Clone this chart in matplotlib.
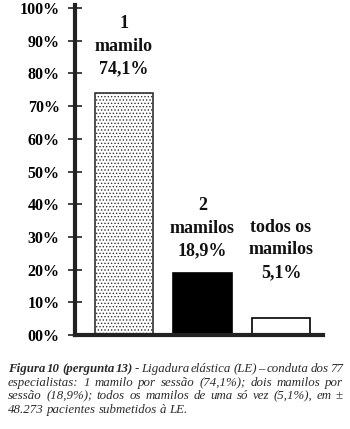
import matplotlib
matplotlib.use('Agg')
import matplotlib.pyplot as plt

# bar data
categories = ['1\nmamilo', '2\nmamilos', 'todos os\nmamilos']
values = [74.1, 18.9, 5.1]
value_labels = ['74,1%', '18,9%', '5,1%']
yticks = list(range(0, 101, 10))
ytick_labels = ['00%'] + ['%d%%' % t for t in yticks[1:]]

# caption, one list per printed line; True marks bold words
caption_lines = [
    [('Figura', True), ('10', True), ('(pergunta', True), ('13)', True), ('-', False),
     ('Ligadura', False), ('elástica', False), ('(LE)', False), ('–', False),
     ('conduta', False), ('dos', False), ('77', False)],
    [(w, False) for w in 'especialistas: 1 mamilo por sessão (74,1%); dois mamilos por'.split()],
    [(w, False) for w in 'sessão (18,9%); todos os mamilos de uma só vez (5,1%), em ±'.split()],
    [(w, False) for w in '48.273 pacientes submetidos à LE.'.split()],
]

serif = ['Liberation Serif', 'DejaVu Serif']
plt.rcParams['hatch.linewidth'] = 0.6

W, H = 350, 429
fig = plt.figure(figsize=(W / 100, H / 100), dpi=100)
ax = fig.add_axes([75 / W, 1 - 335 / H, (323 - 75) / W, (335 - 8) / H])

x = list(range(len(values)))
bars = ax.bar(x, values, width=0.74, color=['white', 'black', 'white'],
              edgecolor=['#333333', 'black', 'black'], linewidth=1.2, zorder=2)
bars[0].set_hatch('.....')

ax.set_xlim(-0.624, 2.535)
ax.set_ylim(0, 100)
ax.set_xticks([])
ax.set_yticks(yticks)
ax.set_yticklabels(ytick_labels, family=serif, fontweight='bold', fontsize=11.5)
ax.tick_params(axis='y', direction='inout', length=10, width=1.2, pad=6, color='#222222')

for side in ['top', 'right']:
    ax.spines[side].set_visible(False)
ax.spines['left'].set_linewidth(3)
ax.spines['bottom'].set_linewidth(3)
ax.spines['left'].set_color('#222222')
ax.spines['bottom'].set_color('#222222')
ax.spines['left'].set_bounds(0, 100.8)

# labels above the bars
offsets = [11, 10, 27]
for i, (cat, lab, v) in enumerate(zip(categories, value_labels, values)):
    ax.annotate(cat + '\n' + lab, xy=(i, v), xytext=(0, offsets[i]),
                textcoords='offset points', ha='center', va='bottom',
                family=serif, fontweight='bold', fontsize=13, linespacing=1.42,
                color='#111111')

# justified caption under the chart
renderer = fig.canvas.get_renderer()
left, right = 8, 343
baselines = [372, 386, 399, 413]
for li, words in enumerate(caption_lines):
    texts = []
    for w, bold in words:
        t = fig.text(0, 1 - baselines[li] / H, w, family=serif, style='italic',
                     fontweight='bold' if bold else 'normal', fontsize=9.3,
                     va='baseline', ha='left', color='#2a2a2a')
        texts.append(t)
    widths = [t.get_window_extent(renderer).width for t in texts]
    if li < len(caption_lines) - 1:
        gap = (right - left - sum(widths)) / (len(texts) - 1)
    else:
        gap = 3
    pos = left
    for t, wd in zip(texts, widths):
        t.set_x(pos / W)
        pos += wd + gap

fig.savefig('out.png', dpi=100)
